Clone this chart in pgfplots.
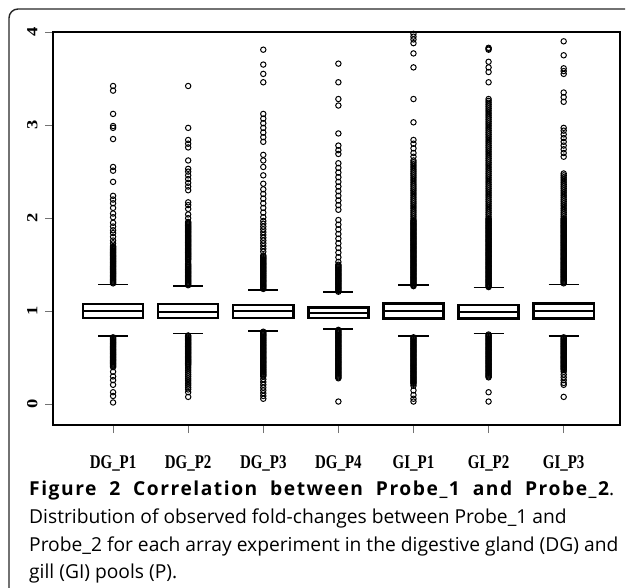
\documentclass[border=0pt]{standalone}
\usepackage{graphicx}
\usepackage{pgfplots}
\pgfplotsset{compat=1.18}
\usepackage{fontspec}
\setmainfont{Liberation Serif}
\newfontfamily\capfont{Open Sans}
\newfontfamily\capbold[LetterSpace=8]{Open Sans Bold}
% R device labels look stretched along the image's vertical
\newcommand{\xl}[1]{\scalebox{1}[1.3]{\fontsize{15}{17}\selectfont\bfseries #1}}
\newcommand{\yl}[1]{\scalebox{1.2}[1]{\fontsize{15.5}{17}\selectfont\bfseries #1}}

\begin{document}
\begin{tikzpicture}
\path[use as bounding box] (0bp,0bp) rectangle (627bp,-588bp);
% figure frame, open on the right
\draw[line width=1.4bp, black!85, rounded corners=9bp] (625bp,-9bp) -- (9bp,-9bp) -- (9bp,-588bp);

\begin{axis}[
  at={(53bp,-425bp)}, anchor=south west,
  scale only axis, width=567bp, height=393bp,
  xmin=0.2, xmax=7.75, ymin=-0.222, ymax=4.0,
  axis line style={line width=2.4bp},
  tick align=outside, major tick length=8bp,
  tick style={line width=0.8bp, black!55},
  xtick pos=bottom, ytick pos=left,
  xtick={1,2,3,4,5,6,7},
  xticklabels={\xl{DG\_P1},\xl{DG\_P2},\xl{DG\_P3},\xl{DG\_P4},\xl{GI\_P1},\xl{GI\_P2},\xl{GI\_P3}},
  ytick={0,1,2,3,4}, yticklabels={\yl{0},\yl{1},\yl{2},\yl{3},\yl{4}},
  xticklabel style={anchor=north, yshift=-19bp},
  yticklabel style={xshift=-4bp, rotate=90, anchor=south},
  clip=false,
  out/.style={only marks, mark=o, mark size=2.7bp, mark options={line width=1bp}, black},
  bx/.style={line width=2.4bp, black, line join=miter},
  st/.style={line width=1.4bp, black},
]

% DG_P1
\addplot[bx] coordinates {(0.6,0.93)(1.4,0.93)(1.4,1.075)(0.6,1.075)} -- cycle;
\addplot[bx] coordinates {(0.6,1.0)(1.4,1.0)};
\addplot[st] coordinates {(0.8,1.29)(1.2,1.29)};
\addplot[st] coordinates {(0.8,0.736)(1.2,0.736)};
\addplot[out] coordinates {
(1,1.30)(1,1.31)(1,1.32)(1,1.33)(1,1.34)(1,1.35)(1,1.36)(1,1.37)(1,1.38)(1,1.39)
(1,1.40)(1,1.41)(1,1.42)(1,1.43)(1,1.44)(1,1.45)(1,1.46)(1,1.47)(1,1.48)(1,1.49)
(1,1.50)(1,1.51)(1,1.52)(1,1.53)(1,1.54)(1,1.55)(1,1.56)(1,1.57)(1,1.58)(1,1.59)
(1,1.60)(1,1.61)(1,1.62)(1,1.63)(1,1.64)(1,1.65)(1,1.66)(1,1.67)(1,1.68)(1,1.69)
(1,1.70)(1,1.73)(1,1.76)(1,1.80)(1,1.84)(1,1.87)(1,1.91)(1,1.95)(1,2.01)(1,2.05)
(1,2.11)(1,2.16)(1,2.20)(1,2.24)(1,2.39)(1,2.51)(1,2.55)(1,2.85)(1,2.97)(1,2.99)
(1,3.12)(1,3.37)(1,3.42)
(1,0.72)(1,0.71)(1,0.70)(1,0.69)(1,0.68)(1,0.67)(1,0.66)(1,0.65)(1,0.64)(1,0.63)
(1,0.62)(1,0.61)(1,0.60)(1,0.59)(1,0.58)(1,0.57)(1,0.56)(1,0.55)(1,0.54)(1,0.53)
(1,0.52)(1,0.51)(1,0.50)(1,0.49)(1,0.48)(1,0.47)(1,0.46)(1,0.45)(1,0.44)(1,0.43)
(1,0.42)(1,0.41)(1,0.40)(1,0.35)(1,0.30)(1,0.26)(1,0.21)(1,0.13)(1,0.09)(1,0.02)};

% DG_P2
\addplot[bx] coordinates {(1.6,0.93)(2.4,0.93)(2.4,1.075)(1.6,1.075)} -- cycle;
\addplot[bx] coordinates {(1.6,0.99)(2.4,0.99)};
\addplot[st] coordinates {(1.8,1.27)(2.2,1.27)};
\addplot[st] coordinates {(1.8,0.76)(2.2,0.76)};
\addplot[out] coordinates {
(2,1.28)(2,1.29)(2,1.30)(2,1.31)(2,1.32)(2,1.33)(2,1.34)(2,1.35)(2,1.36)(2,1.37)
(2,1.38)(2,1.39)(2,1.40)(2,1.41)(2,1.42)(2,1.43)(2,1.44)(2,1.45)(2,1.46)(2,1.47)
(2,1.48)(2,1.49)(2,1.50)(2,1.51)(2,1.53)(2,1.55)(2,1.56)(2,1.57)(2,1.58)(2,1.59)
(2,1.60)(2,1.61)(2,1.62)(2,1.63)(2,1.64)(2,1.65)(2,1.66)(2,1.67)(2,1.68)(2,1.69)
(2,1.70)(2,1.71)(2,1.72)(2,1.73)(2,1.74)(2,1.75)(2,1.76)(2,1.77)(2,1.78)(2,1.79)
(2,1.80)(2,1.81)(2,1.82)(2,1.83)(2,1.84)(2,1.85)(2,1.86)(2,1.87)(2,1.88)(2,1.89)
(2,1.90)(2,1.91)(2,1.92)(2,1.93)(2,1.94)(2,1.95)(2,1.96)(2,2.00)(2,2.04)(2,2.10)
(2,2.14)(2,2.17)(2,2.30)(2,2.34)(2,2.38)(2,2.42)(2,2.46)(2,2.50)(2,2.53)(2,2.62)
(2,2.76)(2,2.80)(2,2.84)(2,2.97)(2,3.42)
(2,0.74)(2,0.73)(2,0.72)(2,0.71)(2,0.70)(2,0.69)(2,0.68)(2,0.67)(2,0.66)(2,0.65)
(2,0.64)(2,0.63)(2,0.62)(2,0.61)(2,0.60)(2,0.59)(2,0.58)(2,0.57)(2,0.56)(2,0.55)
(2,0.54)(2,0.53)(2,0.52)(2,0.51)(2,0.50)(2,0.49)(2,0.48)(2,0.47)(2,0.46)(2,0.45)
(2,0.44)(2,0.43)(2,0.42)(2,0.40)(2,0.38)(2,0.36)(2,0.34)(2,0.32)(2,0.30)(2,0.28)
(2,0.26)(2,0.24)(2,0.22)(2,0.20)(2,0.18)(2,0.16)(2,0.13)(2,0.08)};

% DG_P3
\addplot[bx] coordinates {(2.6,0.93)(3.4,0.93)(3.4,1.065)(2.6,1.065)} -- cycle;
\addplot[bx] coordinates {(2.6,1.0)(3.4,1.0)};
\addplot[st] coordinates {(2.8,1.23)(3.2,1.23)};
\addplot[st] coordinates {(2.8,0.79)(3.2,0.79)};
\addplot[out] coordinates {
(3,1.24)(3,1.25)(3,1.26)(3,1.27)(3,1.28)(3,1.29)(3,1.30)(3,1.31)(3,1.32)(3,1.33)
(3,1.34)(3,1.35)(3,1.36)(3,1.37)(3,1.38)(3,1.39)(3,1.40)(3,1.41)(3,1.42)(3,1.43)
(3,1.44)(3,1.45)(3,1.46)(3,1.47)(3,1.48)(3,1.49)(3,1.50)(3,1.51)(3,1.52)(3,1.53)
(3,1.54)(3,1.55)(3,1.56)(3,1.57)(3,1.58)(3,1.59)(3,1.60)(3,1.64)(3,1.67)(3,1.70)
(3,1.73)(3,1.76)(3,1.79)(3,1.82)(3,1.85)(3,1.88)(3,1.91)(3,1.94)(3,1.97)(3,2.01)
(3,2.06)(3,2.11)(3,2.16)(3,2.21)(3,2.26)(3,2.31)(3,2.37)(3,2.46)(3,2.55)(3,2.62)
(3,2.68)(3,2.82)(3,2.87)(3,2.92)(3,2.97)(3,3.02)(3,3.07)(3,3.12)(3,3.46)(3,3.55)
(3,3.65)(3,3.81)
(3,0.78)(3,0.77)(3,0.76)(3,0.75)(3,0.74)(3,0.73)(3,0.72)(3,0.71)(3,0.70)(3,0.69)
(3,0.68)(3,0.67)(3,0.66)(3,0.65)(3,0.64)(3,0.63)(3,0.62)(3,0.61)(3,0.60)(3,0.59)
(3,0.58)(3,0.57)(3,0.56)(3,0.55)(3,0.54)(3,0.53)(3,0.52)(3,0.51)(3,0.50)(3,0.49)
(3,0.48)(3,0.47)(3,0.46)(3,0.45)(3,0.44)(3,0.43)(3,0.42)(3,0.41)(3,0.40)(3,0.39)
(3,0.38)(3,0.37)(3,0.36)(3,0.35)(3,0.34)(3,0.33)(3,0.32)(3,0.31)(3,0.30)(3,0.27)
(3,0.24)(3,0.21)(3,0.18)(3,0.15)(3,0.12)(3,0.09)(3,0.06)};

% DG_P4
\addplot[bx] coordinates {(3.6,0.93)(4.4,0.93)(4.4,1.04)(3.6,1.04)} -- cycle;
\addplot[bx] coordinates {(3.6,0.98)(4.4,0.98)};
\addplot[st] coordinates {(3.8,1.205)(4.2,1.205)};
\addplot[st] coordinates {(3.8,0.81)(4.2,0.81)};
\addplot[out] coordinates {
(4,1.21)(4,1.22)(4,1.23)(4,1.24)(4,1.25)(4,1.26)(4,1.27)(4,1.28)(4,1.29)(4,1.30)
(4,1.31)(4,1.32)(4,1.33)(4,1.34)(4,1.35)(4,1.36)(4,1.37)(4,1.38)(4,1.39)(4,1.40)
(4,1.41)(4,1.42)(4,1.43)(4,1.44)(4,1.45)(4,1.46)(4,1.47)(4,1.48)(4,1.49)(4,1.50)
(4,1.53)(4,1.58)(4,1.63)(4,1.68)(4,1.73)(4,1.78)(4,1.83)(4,1.88)(4,1.93)(4,1.98)
(4,2.09)(4,2.14)(4,2.19)(4,2.24)(4,2.29)(4,2.34)(4,2.39)(4,2.44)(4,2.49)(4,2.54)
(4,2.59)(4,2.69)(4,2.73)(4,2.78)(4,2.91)(4,3.21)(4,3.28)(4,3.46)(4,3.66)
(4,0.80)(4,0.79)(4,0.78)(4,0.77)(4,0.76)(4,0.75)(4,0.74)(4,0.73)(4,0.72)(4,0.71)
(4,0.70)(4,0.69)(4,0.68)(4,0.67)(4,0.66)(4,0.65)(4,0.64)(4,0.63)(4,0.62)(4,0.61)
(4,0.60)(4,0.59)(4,0.58)(4,0.57)(4,0.56)(4,0.55)(4,0.54)(4,0.53)(4,0.52)(4,0.51)
(4,0.50)(4,0.49)(4,0.48)(4,0.47)(4,0.46)(4,0.45)(4,0.44)(4,0.43)(4,0.42)(4,0.41)
(4,0.40)(4,0.39)(4,0.38)(4,0.37)(4,0.36)(4,0.35)(4,0.34)(4,0.33)(4,0.32)(4,0.31)
(4,0.30)(4,0.29)(4,0.28)(4,0.03)};

% GI_P1
\addplot[bx] coordinates {(4.6,0.923)(5.4,0.923)(5.4,1.084)(4.6,1.084)} -- cycle;
\addplot[bx] coordinates {(4.6,1.0)(5.4,1.0)};
\addplot[st] coordinates {(4.8,1.28)(5.2,1.28)};
\addplot[st] coordinates {(4.8,0.736)(5.2,0.736)};
\addplot[out] coordinates {
(5,1.27)(5,1.28)(5,1.29)(5,1.30)(5,1.31)(5,1.32)(5,1.33)(5,1.34)(5,1.35)(5,1.36)
(5,1.37)(5,1.38)(5,1.39)(5,1.40)(5,1.41)(5,1.42)(5,1.43)(5,1.44)(5,1.45)(5,1.46)
(5,1.47)(5,1.48)(5,1.49)(5,1.50)(5,1.51)(5,1.52)(5,1.53)(5,1.54)(5,1.55)(5,1.56)
(5,1.57)(5,1.58)(5,1.59)(5,1.60)(5,1.61)(5,1.62)(5,1.63)(5,1.64)(5,1.65)(5,1.66)
(5,1.67)(5,1.68)(5,1.69)(5,1.70)(5,1.71)(5,1.72)(5,1.73)(5,1.74)(5,1.75)(5,1.76)
(5,1.77)(5,1.78)(5,1.79)(5,1.80)(5,1.81)(5,1.82)(5,1.83)(5,1.84)(5,1.85)(5,1.86)
(5,1.87)(5,1.88)(5,1.89)(5,1.90)(5,1.91)(5,1.92)(5,1.93)(5,1.94)(5,1.95)(5,1.96)
(5,1.97)(5,1.98)(5,2.00)(5,2.02)(5,2.04)(5,2.06)(5,2.08)(5,2.10)(5,2.12)(5,2.14)
(5,2.16)(5,2.18)(5,2.20)(5,2.22)(5,2.24)(5,2.26)(5,2.28)(5,2.30)(5,2.32)(5,2.34)
(5,2.36)(5,2.38)(5,2.40)(5,2.42)(5,2.44)(5,2.46)(5,2.48)(5,2.50)(5,2.52)(5,2.54)
(5,2.56)(5,2.58)(5,2.60)(5,2.62)(5,2.66)(5,2.70)(5,2.75)(5,2.80)(5,2.84)(5,3.03)
(5,3.28)(5,3.62)(5,3.77)(5,3.88)(5,3.92)(5,3.95)(5,3.98)
(5,0.72)(5,0.71)(5,0.70)(5,0.69)(5,0.68)(5,0.67)(5,0.66)(5,0.65)(5,0.64)(5,0.63)
(5,0.62)(5,0.61)(5,0.60)(5,0.59)(5,0.58)(5,0.57)(5,0.56)(5,0.55)(5,0.54)(5,0.53)
(5,0.52)(5,0.51)(5,0.50)(5,0.49)(5,0.48)(5,0.47)(5,0.46)(5,0.45)(5,0.44)(5,0.43)
(5,0.42)(5,0.41)(5,0.40)(5,0.39)(5,0.38)(5,0.37)(5,0.36)(5,0.35)(5,0.34)(5,0.33)
(5,0.32)(5,0.31)(5,0.30)(5,0.29)(5,0.28)(5,0.27)(5,0.26)(5,0.25)(5,0.24)(5,0.23)
(5,0.22)(5,0.20)(5,0.15)(5,0.10)(5,0.06)(5,0.03)};

% GI_P2
\addplot[bx] coordinates {(5.6,0.923)(6.4,0.923)(6.4,1.065)(5.6,1.065)} -- cycle;
\addplot[bx] coordinates {(5.6,0.99)(6.4,0.99)};
\addplot[st] coordinates {(5.8,1.255)(6.2,1.255)};
\addplot[st] coordinates {(5.8,0.76)(6.2,0.76)};
\addplot[out] coordinates {
(6,1.26)(6,1.27)(6,1.28)(6,1.29)(6,1.30)(6,1.31)(6,1.32)(6,1.33)(6,1.34)(6,1.35)
(6,1.36)(6,1.37)(6,1.38)(6,1.39)(6,1.40)(6,1.41)(6,1.42)(6,1.43)(6,1.44)(6,1.45)
(6,1.46)(6,1.47)(6,1.48)(6,1.49)(6,1.50)(6,1.51)(6,1.52)(6,1.53)(6,1.54)(6,1.55)
(6,1.56)(6,1.57)(6,1.58)(6,1.59)(6,1.60)(6,1.61)(6,1.62)(6,1.63)(6,1.64)(6,1.65)
(6,1.66)(6,1.67)(6,1.68)(6,1.69)(6,1.70)(6,1.71)(6,1.72)(6,1.73)(6,1.74)(6,1.75)
(6,1.76)(6,1.77)(6,1.78)(6,1.79)(6,1.80)(6,1.81)(6,1.82)(6,1.83)(6,1.84)(6,1.85)
(6,1.86)(6,1.87)(6,1.88)(6,1.89)(6,1.90)(6,1.91)(6,1.92)(6,1.93)(6,1.94)(6,1.95)
(6,1.96)(6,1.97)(6,1.98)(6,1.99)(6,2.00)(6,2.02)(6,2.04)(6,2.06)(6,2.08)(6,2.10)
(6,2.12)(6,2.14)(6,2.16)(6,2.18)(6,2.20)(6,2.22)(6,2.24)(6,2.26)(6,2.28)(6,2.30)
(6,2.32)(6,2.34)(6,2.36)(6,2.38)(6,2.40)(6,2.42)(6,2.44)(6,2.46)(6,2.48)(6,2.50)
(6,2.52)(6,2.54)(6,2.56)(6,2.58)(6,2.60)(6,2.62)(6,2.64)(6,2.66)(6,2.68)(6,2.70)
(6,2.72)(6,2.74)(6,2.76)(6,2.78)(6,2.80)(6,2.82)(6,2.84)(6,2.86)(6,2.88)(6,2.90)
(6,2.92)(6,2.94)(6,2.96)(6,2.98)(6,3.00)(6,3.02)(6,3.04)(6,3.06)(6,3.08)(6,3.10)
(6,3.12)(6,3.14)(6,3.16)(6,3.18)(6,3.20)(6,3.22)(6,3.24)(6,3.26)(6,3.28)(6,3.46)
(6,3.57)(6,3.62)(6,3.68)(6,3.81)(6,3.82)(6,3.83)
(6,0.75)(6,0.74)(6,0.73)(6,0.72)(6,0.71)(6,0.70)(6,0.69)(6,0.68)(6,0.67)(6,0.66)
(6,0.65)(6,0.64)(6,0.63)(6,0.62)(6,0.61)(6,0.60)(6,0.59)(6,0.58)(6,0.57)(6,0.56)
(6,0.55)(6,0.54)(6,0.53)(6,0.52)(6,0.51)(6,0.50)(6,0.49)(6,0.48)(6,0.47)(6,0.46)
(6,0.45)(6,0.44)(6,0.43)(6,0.42)(6,0.41)(6,0.40)(6,0.39)(6,0.38)(6,0.37)(6,0.36)
(6,0.35)(6,0.34)(6,0.33)(6,0.32)(6,0.31)(6,0.30)(6,0.29)(6,0.13)(6,0.03)};

% GI_P3
\addplot[bx] coordinates {(6.6,0.923)(7.4,0.923)(7.4,1.084)(6.6,1.084)} -- cycle;
\addplot[bx] coordinates {(6.6,1.0)(7.4,1.0)};
\addplot[st] coordinates {(6.8,1.29)(7.2,1.29)};
\addplot[st] coordinates {(6.8,0.736)(7.2,0.736)};
\addplot[out] coordinates {
(7,1.30)(7,1.31)(7,1.32)(7,1.33)(7,1.34)(7,1.35)(7,1.36)(7,1.37)(7,1.38)(7,1.39)
(7,1.40)(7,1.41)(7,1.42)(7,1.43)(7,1.44)(7,1.45)(7,1.46)(7,1.47)(7,1.48)(7,1.49)
(7,1.50)(7,1.51)(7,1.52)(7,1.53)(7,1.54)(7,1.55)(7,1.56)(7,1.57)(7,1.58)(7,1.59)
(7,1.60)(7,1.61)(7,1.62)(7,1.63)(7,1.64)(7,1.65)(7,1.66)(7,1.67)(7,1.68)(7,1.69)
(7,1.70)(7,1.71)(7,1.72)(7,1.73)(7,1.74)(7,1.75)(7,1.76)(7,1.77)(7,1.78)(7,1.79)
(7,1.80)(7,1.81)(7,1.82)(7,1.83)(7,1.84)(7,1.85)(7,1.86)(7,1.87)(7,1.88)(7,1.89)
(7,1.90)(7,1.91)(7,1.92)(7,1.93)(7,1.94)(7,1.95)(7,1.96)(7,1.97)(7,1.98)(7,1.99)
(7,2.00)(7,2.02)(7,2.04)(7,2.06)(7,2.08)(7,2.10)(7,2.12)(7,2.14)(7,2.16)(7,2.18)
(7,2.20)(7,2.22)(7,2.24)(7,2.26)(7,2.28)(7,2.30)(7,2.32)(7,2.34)(7,2.36)(7,2.38)
(7,2.40)(7,2.42)(7,2.44)(7,2.46)(7,2.48)(7,2.66)(7,2.70)(7,2.74)(7,2.78)(7,2.82)
(7,2.86)(7,2.90)(7,2.94)(7,2.97)(7,3.25)(7,3.30)(7,3.35)(7,3.55)(7,3.58)(7,3.61)
(7,3.75)(7,3.90)
(7,0.72)(7,0.71)(7,0.70)(7,0.69)(7,0.68)(7,0.67)(7,0.66)(7,0.65)(7,0.64)(7,0.63)
(7,0.62)(7,0.61)(7,0.60)(7,0.59)(7,0.58)(7,0.57)(7,0.56)(7,0.55)(7,0.54)(7,0.53)
(7,0.52)(7,0.51)(7,0.50)(7,0.49)(7,0.48)(7,0.47)(7,0.46)(7,0.45)(7,0.44)(7,0.43)
(7,0.42)(7,0.41)(7,0.40)(7,0.39)(7,0.38)(7,0.37)(7,0.35)(7,0.32)(7,0.29)(7,0.26)
(7,0.23)(7,0.21)(7,0.08)};

\end{axis}

% caption
\node[anchor=base west, inner sep=0pt] at (29bp,-495bp)
  {\fontsize{19.3}{22}\selectfont\makebox[585bp][s]{\capbold Figure 2 Correlation between Probe\_1 and Probe\_2\capfont.}};
\node[anchor=base west, inner sep=0pt] at (29bp,-523bp)
  {\capfont\fontsize{19.3}{22}\selectfont Distribution of observed fold-changes between Probe\_1 and};
\node[anchor=base west, inner sep=0pt] at (29bp,-551bp)
  {\capfont\fontsize{19.3}{22}\selectfont Probe\_2 for each array experiment in the digestive gland (DG) and};
\node[anchor=base west, inner sep=0pt] at (29bp,-578bp)
  {\capfont\fontsize{19.3}{22}\selectfont gill (GI) pools (P).};
\end{tikzpicture}
\end{document}
